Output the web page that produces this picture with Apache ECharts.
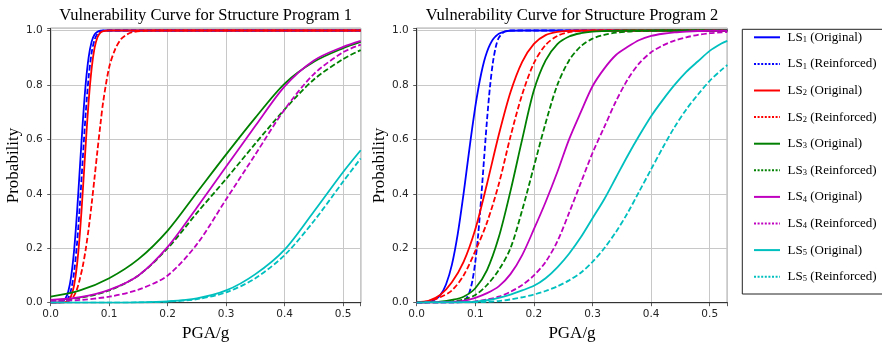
<!DOCTYPE html>
<html>
<head>
<meta charset="utf-8">
<script src="https://cdn.jsdelivr.net/npm/echarts@6/dist/echarts.min.js"></script>
<style>
html,body{margin:0;padding:0;background:#fff;}
#chart{width:882px;height:343px;}
</style>
</head>
<body>
<div id="chart"></div>
<script>
// ---------- data ----------
const seriesNames = [
  'LS1 (Original)', 'LS1 (Reinforced)',
  'LS2 (Original)', 'LS2 (Reinforced)',
  'LS3 (Original)', 'LS3 (Reinforced)',
  'LS4 (Original)', 'LS4 (Reinforced)',
  'LS5 (Original)', 'LS5 (Reinforced)'
];
const chartTitles = ['Vulnerability Curve for Structure Program 1', 'Vulnerability Curve for Structure Program 2'];
const xTicks = [0, 0.1, 0.2, 0.3, 0.4, 0.5];
const yTicks = [0, 0.2, 0.4, 0.6, 0.8, 1.0];

// Program 1 (left)
const pgaFineL = [0, 0.01, 0.02, 0.025, 0.03, 0.035, 0.04, 0.045, 0.05, 0.055, 0.06, 0.065, 0.07, 0.075, 0.08, 0.085, 0.09, 0.1, 0.11, 0.12, 0.13, 0.14, 0.16, 0.2, 0.53];
const pgaCoarseL = [0, 0.05, 0.1, 0.15, 0.2, 0.25, 0.3, 0.35, 0.4, 0.45, 0.5, 0.53];
const p1_LS1_orig = [0, 0, 0.005, 0.015, 0.041, 0.097, 0.192, 0.332, 0.5, 0.668, 0.808, 0.903, 0.959, 0.985, 0.995, 0.999, 1, 1, 1, 1, 1, 1, 1, 1, 1];
const p1_LS1_reinf = [0, 0, 0.002, 0.006, 0.018, 0.049, 0.112, 0.217, 0.364, 0.535, 0.7, 0.831, 0.918, 0.966, 0.988, 0.996, 0.999, 1, 1, 1, 1, 1, 1, 1, 1];
const p1_LS2_orig = [0, 0, 0.001, 0.002, 0.008, 0.025, 0.064, 0.139, 0.257, 0.414, 0.586, 0.743, 0.861, 0.936, 0.975, 0.992, 0.998, 1, 1, 1, 1, 1, 1, 1, 1];
const p1_LS2_reinf = [0, 0, 0.001, 0.002, 0.005, 0.012, 0.026, 0.05, 0.089, 0.136, 0.198, 0.274, 0.363, 0.46, 0.56, 0.655, 0.742, 0.865, 0.93, 0.968, 0.985, 0.994, 0.999, 1, 1];
const p1_LS3_orig = [0.022, 0.045, 0.09, 0.16, 0.265, 0.405, 0.545, 0.68, 0.805, 0.885, 0.935, 0.958];
const p1_LS3_reinf = [0.008, 0.018, 0.045, 0.1, 0.2, 0.33, 0.455, 0.585, 0.71, 0.82, 0.895, 0.928];
const p1_LS4_orig = [0.01, 0.02, 0.047, 0.1, 0.205, 0.35, 0.5, 0.65, 0.795, 0.89, 0.94, 0.962];
const p1_LS4_reinf = [0.005, 0.01, 0.022, 0.048, 0.1, 0.215, 0.38, 0.545, 0.71, 0.84, 0.92, 0.948];
const p1_LS5_orig = [0, 0, 0, 0.001, 0.005, 0.016, 0.045, 0.105, 0.195, 0.335, 0.48, 0.56];
const p1_LS5_reinf = [0, 0, 0, 0.001, 0.004, 0.013, 0.038, 0.09, 0.175, 0.3, 0.445, 0.53];

// Program 2 (right)
const pgaFineR = [0, 0.01, 0.02, 0.03, 0.04, 0.05, 0.06, 0.07, 0.08, 0.085, 0.09, 0.095, 0.1, 0.105, 0.11, 0.115, 0.12, 0.125, 0.13, 0.135, 0.14, 0.15, 0.16, 0.18, 0.2, 0.53];
const pgaCoarseR = [0, 0.02, 0.04, 0.06, 0.08, 0.1, 0.12, 0.14, 0.16, 0.18, 0.2, 0.22, 0.24, 0.26, 0.28, 0.3, 0.32, 0.34, 0.36, 0.38, 0.4, 0.42, 0.44, 0.46, 0.48, 0.5, 0.52, 0.53];
const p2_LS1_orig = [0, 0.001, 0.003, 0.01, 0.027, 0.067, 0.139, 0.252, 0.401, 0.483, 0.566, 0.646, 0.72, 0.785, 0.841, 0.887, 0.922, 0.948, 0.967, 0.979, 0.988, 0.996, 0.999, 1, 1, 1];
const p2_LS1_reinf = [0, 0, 0, 0, 0, 0, 0, 0.001, 0.006, 0.016, 0.038, 0.08, 0.15, 0.252, 0.384, 0.53, 0.672, 0.792, 0.882, 0.94, 0.973, 0.996, 1, 1, 1, 1];
const p2_LS2_orig = [0.002, 0.007, 0.028, 0.075, 0.15, 0.27, 0.437, 0.616, 0.773, 0.885, 0.951, 0.983, 0.995, 0.999, 1, 1, 1, 1, 1, 1, 1, 1, 1, 1, 1, 1, 1, 1];
const p2_LS2_reinf = [0.002, 0.006, 0.02, 0.045, 0.1, 0.19, 0.295, 0.435, 0.61, 0.765, 0.88, 0.947, 0.98, 0.994, 0.998, 1, 1, 1, 1, 1, 1, 1, 1, 1, 1, 1, 1, 1];
const p2_LS3_orig = [0.001, 0.002, 0.004, 0.01, 0.022, 0.053, 0.12, 0.24, 0.41, 0.6, 0.78, 0.89, 0.95, 0.978, 0.99, 0.996, 0.998, 0.999, 1, 1, 1, 1, 1, 1, 1, 1, 1, 1];
const p2_LS3_reinf = [0, 0.001, 0.002, 0.005, 0.012, 0.028, 0.065, 0.12, 0.2, 0.34, 0.5, 0.66, 0.8, 0.89, 0.942, 0.97, 0.984, 0.992, 0.996, 0.998, 0.999, 1, 1, 1, 1, 1, 1, 1];
const p2_LS4_orig = [0, 0.001, 0.002, 0.003, 0.007, 0.018, 0.035, 0.06, 0.105, 0.175, 0.27, 0.37, 0.48, 0.6, 0.7, 0.795, 0.86, 0.91, 0.94, 0.965, 0.98, 0.988, 0.993, 0.996, 0.998, 0.999, 0.999, 0.999];
const p2_LS4_reinf = [0, 0.001, 0.001, 0.001, 0.002, 0.005, 0.012, 0.022, 0.04, 0.065, 0.1, 0.15, 0.225, 0.33, 0.44, 0.55, 0.645, 0.74, 0.82, 0.88, 0.92, 0.945, 0.963, 0.975, 0.984, 0.99, 0.993, 0.994];
const p2_LS5_orig = [0, 0.001, 0.001, 0.001, 0.002, 0.004, 0.009, 0.018, 0.03, 0.045, 0.062, 0.09, 0.13, 0.18, 0.24, 0.31, 0.38, 0.46, 0.54, 0.615, 0.685, 0.745, 0.8, 0.848, 0.887, 0.925, 0.952, 0.962];
const p2_LS5_reinf = [0, 0.001, 0.001, 0.001, 0.001, 0.002, 0.003, 0.006, 0.012, 0.02, 0.03, 0.043, 0.06, 0.082, 0.11, 0.15, 0.2, 0.26, 0.33, 0.41, 0.49, 0.57, 0.645, 0.71, 0.765, 0.815, 0.855, 0.873];

// ---------- chart ----------
const colors = ['#0000ff', '#0000ff', '#ff0000', '#ff0000', '#008000', '#008000', '#bf00bf', '#bf00bf', '#00bfbf', '#00bfbf'];
const serif = 'Liberation Serif, Times New Roman, serif';
const sans = 'DejaVu Sans, sans-serif';

const leftSets = [
  [pgaFineL, p1_LS1_orig], [pgaFineL, p1_LS1_reinf], [pgaFineL, p1_LS2_orig], [pgaFineL, p1_LS2_reinf],
  [pgaCoarseL, p1_LS3_orig], [pgaCoarseL, p1_LS3_reinf], [pgaCoarseL, p1_LS4_orig], [pgaCoarseL, p1_LS4_reinf],
  [pgaCoarseL, p1_LS5_orig], [pgaCoarseL, p1_LS5_reinf]
];
const rightSets = [
  [pgaFineR, p2_LS1_orig], [pgaFineR, p2_LS1_reinf],
  [pgaCoarseR, p2_LS2_orig], [pgaCoarseR, p2_LS2_reinf], [pgaCoarseR, p2_LS3_orig], [pgaCoarseR, p2_LS3_reinf],
  [pgaCoarseR, p2_LS4_orig], [pgaCoarseR, p2_LS4_reinf], [pgaCoarseR, p2_LS5_orig], [pgaCoarseR, p2_LS5_reinf]
];

function zip(xs, ys) { return xs.map((x, i) => [x, ys[i]]); }

const series = [];
[leftSets, rightSets].forEach((sets, gi) => {
  sets.forEach((s, i) => {
    series.push({
      name: seriesNames[i],
      type: 'line',
      xAxisIndex: gi, yAxisIndex: gi,
      data: zip(s[0], s[1]),
      showSymbol: false, symbol: 'none',
      smooth: 0.3,
      clip: true,
      lineStyle: { color: colors[i], width: 1.8, type: i % 2 ? [5.5, 2.5] : 'solid' },
      itemStyle: { color: colors[i] },
      emphasis: { disabled: true }
    });
  });
});

function fmtX(v) { return v > 0.5001 ? '' : v.toFixed(1); }
function fmtY(v) { return v > 1.0001 ? '' : v.toFixed(1); }

const grids = [
  { left: 50.7, top: 28.3, width: 310, height: 274.4 },
  { left: 416.7, top: 28.3, width: 310.6, height: 274.4 }
];

function xAxis(gi) {
  return {
    type: 'value', gridIndex: gi, min: xTicks[0], max: 0.53, interval: 0.1,
    name: 'PGA/g', nameLocation: 'middle', nameGap: 20,
    nameTextStyle: { fontFamily: serif, fontSize: 17, color: '#000' },
    axisLine: { show: true, onZero: false, lineStyle: { color: '#333', width: 1 } },
    axisTick: { show: true, inside: false, length: 3.5, lineStyle: { color: '#333', width: 0.8 } },
    axisLabel: { formatter: fmtX, fontFamily: sans, fontSize: 10.5, color: '#262626', margin: 6.5 },
    splitLine: { show: true, lineStyle: { color: '#c8c8c8', width: 1 } }
  };
}
function yAxis(gi) {
  return {
    type: 'value', gridIndex: gi, min: yTicks[0], max: 1.008, interval: 0.2,
    name: 'Probability', nameLocation: 'middle', nameGap: 29,
    nameTextStyle: { fontFamily: serif, fontSize: 17, color: '#000' },
    axisLine: { show: true, onZero: false, lineStyle: { color: '#333', width: 1 } },
    axisTick: { show: true, inside: false, length: 3.5, lineStyle: { color: '#333', width: 0.8 } },
    axisLabel: { formatter: fmtY, fontFamily: sans, fontSize: 10.5, color: '#262626', margin: 8 },
    splitLine: { show: true, lineStyle: { color: '#c8c8c8', width: 1 } }
  };
}

const legendData = seriesNames.map((n, i) => ({
  name: n,
  itemStyle: { opacity: 0 },
  lineStyle: { color: colors[i], width: 2, type: i % 2 ? [2, 1.6] : 'solid' }
}));

const option = {
  animation: false,
  backgroundColor: '#fff',
  grid: grids.map(g => Object.assign({ show: true, borderColor: '#333', borderWidth: 1, backgroundColor: 'transparent', containLabel: false, outerBoundsMode: 'none' }, g)),
  xAxis: [xAxis(0), xAxis(1)],
  yAxis: [yAxis(0), yAxis(1)],
  legend: {
    orient: 'vertical',
    left: 742.3, top: 29.3,
    padding: [1, 40, 10.3, 10.7],
    itemWidth: 26, itemHeight: 14, itemGap: 12.6,
    borderColor: '#222', borderWidth: 1, backgroundColor: '#fff',
    selectedMode: false,
    itemStyle: { opacity: 0, borderWidth: 0 },
    data: legendData,
    formatter: function (name) {
      const m = name.match(/^LS(\d) (.*)$/);
      return '{g|}LS{sub|' + m[1] + '} ' + m[2];
    },
    textStyle: {
      fontFamily: serif, fontSize: 13, color: '#000', lineHeight: 14,
      rich: {
        g: { width: 2.5, lineHeight: 14 },
        sub: { fontFamily: serif, fontSize: 8.5, color: '#000', verticalAlign: 'bottom', lineHeight: 14 }
      }
    }
  },
  graphic: [
    { type: 'text', x: 205.7, y: 15.9, style: { text: chartTitles[0], font: '16.5px ' + serif, fill: '#000', textAlign: 'center', textVerticalAlign: 'middle' } },
    { type: 'text', x: 572, y: 15.9, style: { text: chartTitles[1], font: '16.5px ' + serif, fill: '#000', textAlign: 'center', textVerticalAlign: 'middle' } }
  ],
  series: series
};

const chart = echarts.init(document.getElementById('chart'), null, { renderer: 'canvas' });
chart.setOption(option);
</script>
</body>
</html>
